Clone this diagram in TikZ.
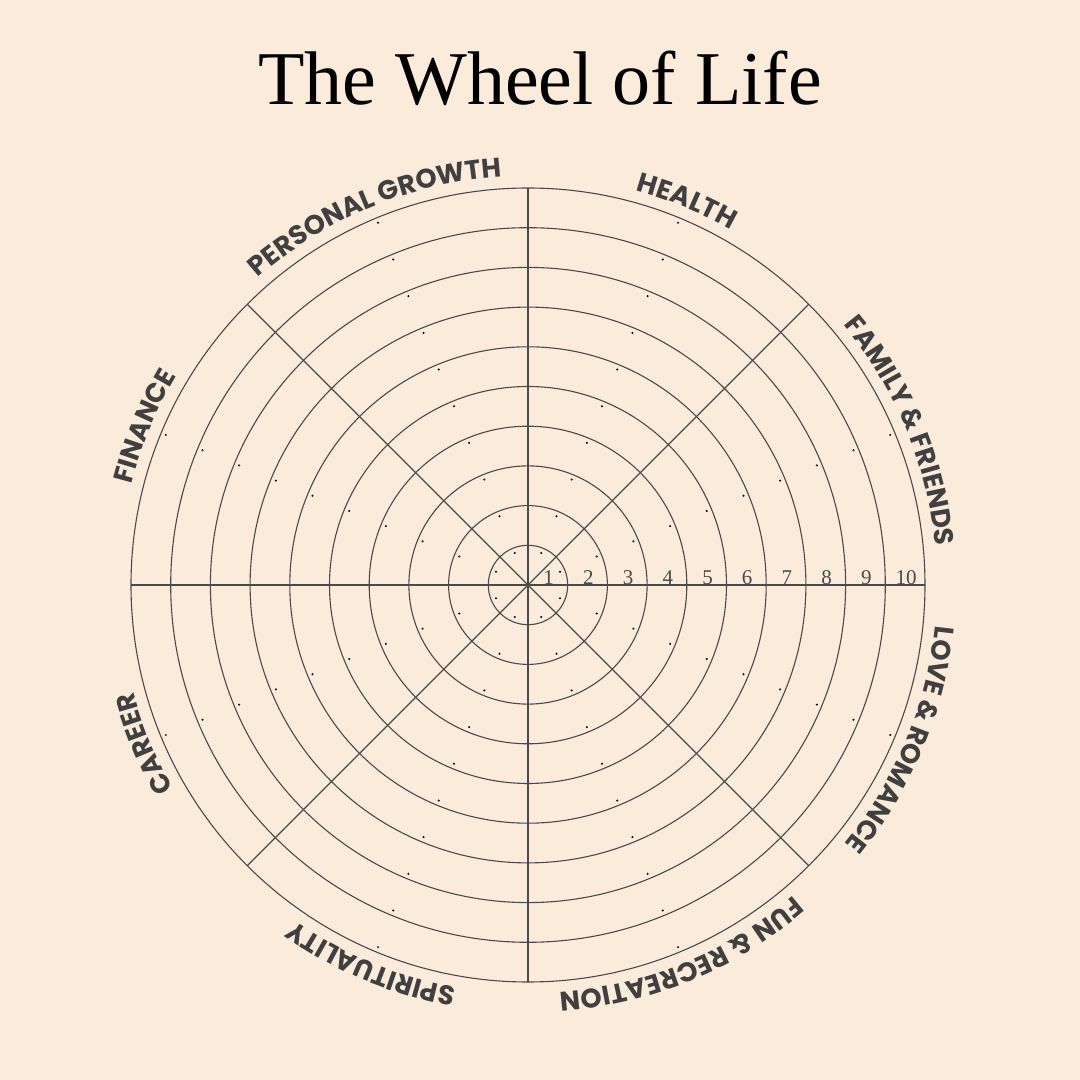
\documentclass[tikz,border=0pt]{standalone}
\usepackage{fontspec}
\setmainfont{Liberation Serif}
\newfontfamily\labfont{Poppins Bold}
\usetikzlibrary{decorations.text}
\definecolor{bg}{HTML}{FBEBDA}
\definecolor{ink}{HTML}{4A4A4A}
\definecolor{lab}{HTML}{404040}
\begin{document}
\begin{tikzpicture}[x=1pt,y=1pt,
  wline/.style={draw=ink,line width=1.1pt},
  numlab/.style={anchor=base,font=\fontsize{21}{21}\selectfont,text=ink,inner sep=0pt},
  arclab/.style={decorate,decoration={text along path,text align=center,
     text={#1},text color=lab,text format delimiters={|}{|}}}]
\fill[bg] (0,0) rectangle (1080,1080);
\useasboundingbox (0,0) rectangle (1080,1080);
\coordinate (c) at (528,495);
\node (title) at (540,1002) {\fontsize{76}{76}\selectfont The Wheel of Life};
\foreach \k in {1,...,10}{
  \draw[wline] (c) circle[radius=39.7*\k];
}
\foreach \a in {0,45,...,315}{
  \draw[wline] (c) -- ++(\a:397);
}
\foreach \k in {1,...,10}{
  \node[numlab] (n\k) at ([xshift=39.7*\k-19]c) {\k};
}
\foreach \b in {22.5,67.5,...,337.5}{
  \foreach \k in {1,...,10}{
    \fill[black] ([shift={(\b:39.7*\k-5)}]c) circle[radius=1.1];
  }
}
\def\lab#1#2{\path[arclab={|\labfont\fontsize{27}{27}\selectfont|#2}]
  ([shift={(#1+44:409)}]c) arc[start angle=#1+44,end angle=#1-44,radius=409];}
\lab{112.5}{PERSONAL GROWTH}
\lab{67.5}{HEALTH}
\lab{22.5}{FAMILY {\&} FRIENDS}
\lab{-22.5}{LOVE {\&} ROMANCE}
\lab{-67.5}{FUN {\&} RECREATION}
\lab{-112.5}{SPIRITUALITY}
\lab{-157.5}{CAREER}
\lab{157.5}{FINANCE}
\end{tikzpicture}
\end{document}
